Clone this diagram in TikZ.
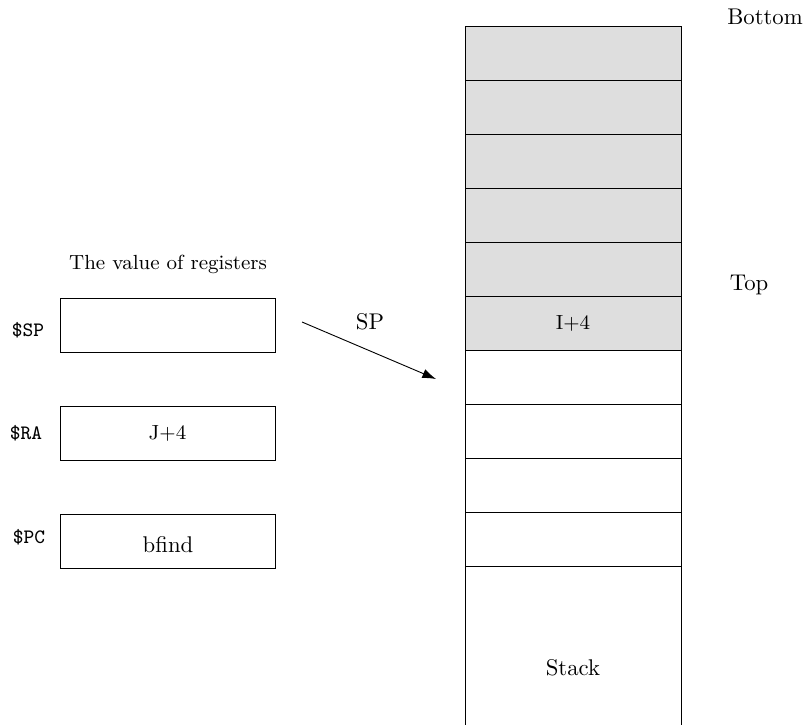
\documentclass[tikz,border=0pt]{standalone}
\usepackage{amsmath}
\usepackage{tikz}
\usetikzlibrary{positioning,arrows.meta}

\tikzset{
  cell/.style={draw, minimum width=95pt, minimum height=23.76pt, inner sep=0pt},
  used/.style={cell, fill=black!13},
  reg/.style={draw, minimum width=94.6pt, minimum height=23.76pt, inner sep=0pt},
  regname/.style={font=\small\ttfamily}
}

\begin{document}
\begin{tikzpicture}[x=0.44pt,y=-0.44pt,>={Latex[length=6pt,width=4.2pt]}]

	% fix the frame of the picture
	\useasboundingbox (0,0) rectangle (809,724);
	\clip (0,0) rectangle (809,724);

	% the stack, the used cells are grey
	\foreach \i in {1,...,10} {
		\ifnum\i<7
			\node[used] (cell\i) at (573,{53+54*(\i-1)}) {};
		\else
			\node[cell] (cell\i) at (573,{53+54*(\i-1)}) {};
		\fi
	}
	\node[cell, minimum height=89.8pt] (stack) at (573,668) {Stack};
	\node at (cell6) {\small I+4};

	% label bottom and top
	\node (bottom) at (765,17) {Bottom};
	\node (top) at (749,285) {Top};

	% the registers
	\node[font=\small] (title) at (168,264) {The value of registers};
	\node[reg] (sp) at (167.5,325) {};
	\node[reg] (ra) at (167.5,433) {\small J+4};
	\node[reg] (pc) at (167.5,541) {};
	\node at (168,545) {bfind};
	\node[regname] (spname) at (28,330) {\$SP};
	\node[regname] (raname) at (26,433) {\$RA};
	\node[regname] (pcname) at (29,537) {\$PC};

	% the stack pointer
	\coordinate (spfrom) at (302,322);
	\coordinate (spto) at (436,379);
	\draw[->] (spfrom) -- (spto);
	\node (splabel) at (370,322) {SP};

\end{tikzpicture}
\end{document}
